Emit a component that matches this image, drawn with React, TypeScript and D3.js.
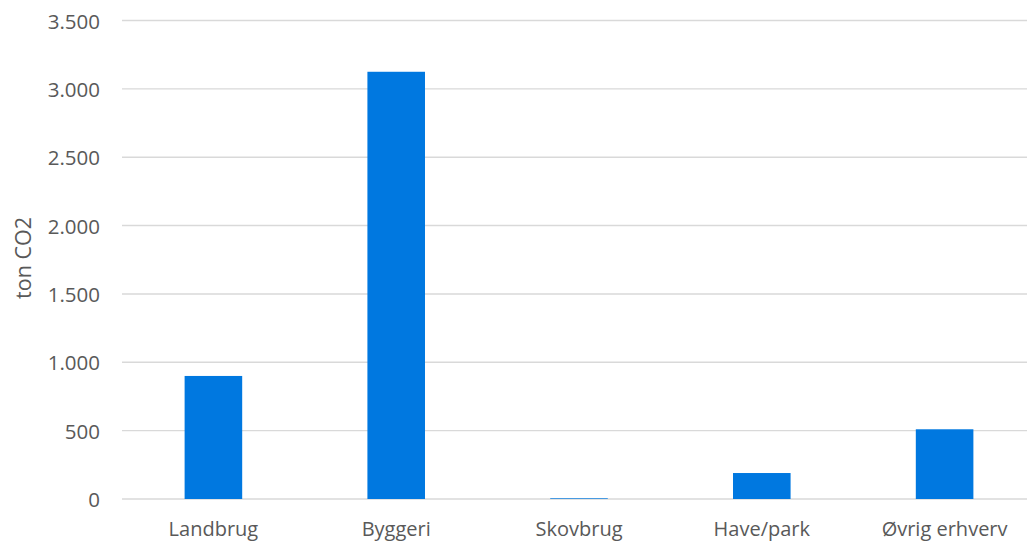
import React from "react";
import * as d3 from "d3";

const categories: string[] = ["Landbrug", "Byggeri", "Skovbrug", "Have/park", "Øvrig erhverv"];
const values: number[] = [900, 3125, 5, 190, 510];
const yTicks: number[] = [0, 500, 1000, 1500, 2000, 2500, 3000, 3500];
const yTitle = "ton CO2";

const W = 1027;
const H = 543;
const FONT = "'Open Sans', 'Liberation Sans', sans-serif";
const TEXT = "#595959";

export default function App() {
  const x = d3
    .scaleBand<string>()
    .domain(categories)
    .range([122, 1036])
    .paddingInner(0.685)
    .paddingOuter(0.3425);
  const y = d3.scaleLinear().domain([0, 3500]).range([499, 20.5]);
  const fmt = (v: number) => d3.format(",")(v).replace(/,/g, ".");

  return (
    <svg
      width={W}
      height={H}
      style={{ position: "absolute", left: 0, top: 0, background: "#fff" }}
      fontFamily={FONT}
    >
      <rect width={W} height={H} fill="#fff" />
      {yTicks.map((t) => (
        <g key={t}>
          <line x1={122} x2={1036} y1={y(t)} y2={y(t)} stroke="#d9d9d9" strokeWidth={1.4} />
          <text
            x={100}
            y={y(t)}
            textAnchor="end"
            dominantBaseline="central"
            fontSize={20.5}
            fill={TEXT}
          >
            {fmt(t)}
          </text>
        </g>
      ))}
      {categories.map((c, i) => (
        <g key={c}>
          <rect
            x={x(c)}
            y={y(values[i])}
            width={x.bandwidth()}
            height={y(0) - y(values[i])}
            fill="#0078e0"
          />
          <text
            x={(x(c) as number) + x.bandwidth() / 2}
            y={536}
            textAnchor="middle"
            fontSize={20}
            fill={TEXT}
          >
            {c}
          </text>
        </g>
      ))}
      <text
        transform="translate(31,258) rotate(-90)"
        textAnchor="middle"
        fontSize={21.5}
        fill={TEXT}
      >
        {yTitle}
      </text>
    </svg>
  );
}
